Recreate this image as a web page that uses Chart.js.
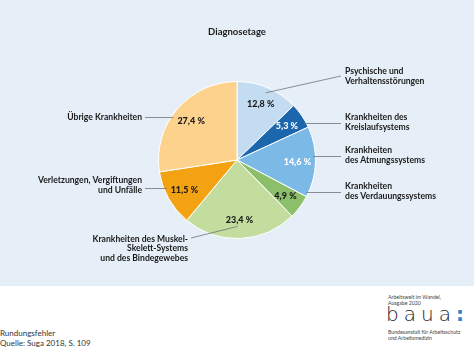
<!DOCTYPE html>
<html>
<head>
<meta charset="utf-8">
<script src="https://cdn.jsdelivr.net/npm/chart.js@4.4.1/dist/chart.umd.min.js"></script>
<style>
  html, body { margin: 0; padding: 0; background: #ffffff; }
  body { width: 474px; height: 351px; position: relative; overflow: hidden; font-family: Lato, "Open Sans", sans-serif; }
  #panel { position: absolute; left: 0; top: 0; width: 474px; height: 286px; background: #e6eff8; }
  #panel canvas { display: block; }
  .foot { position: absolute; color: #333; white-space: nowrap; }
  #f1 { left: 0; top: 328px; font-size: 8px; line-height: 10px; }
  .logo-small { font-size: 5.2px; line-height: 6.2px; color: #444; left: 388px; }
  #lg1 { top: 294px; }
  #lg2 { top: 329px; }
  #baua { left: 386px; top: 303px; font-family: "DejaVu Sans", sans-serif; font-weight: 300; font-size: 20px; line-height: 22px; letter-spacing: 5px; color: #222; }
  #baua span { color: #2f7fd6; font-weight: 700; }
</style>
</head>
<body>
<div id="panel"><canvas id="c" width="474" height="286"></canvas></div>
<div class="foot" id="f1">Rundungsfehler<br>Quelle: Suga 2018, S. 109</div>
<div class="foot logo-small" id="lg1">Arbeitswelt im Wandel,<br>Ausgabe 2020</div>
<div class="foot" id="baua">baua<span>:</span></div>
<div class="foot logo-small" id="lg2">Bundesanstalt für Arbeitsschutz<br>und Arbeitsmedizin</div>
<script>
// ---- data ----
const chartTitle = 'Diagnosetage';
const categories = [
  'Psychische und Verhaltensstörungen',
  'Krankheiten des Kreislaufsystems',
  'Krankheiten des Atmungssystems',
  'Krankheiten des Verdauungssystems',
  'Krankheiten des Muskel-Skelett-Systems und des Bindegewebes',
  'Verletzungen, Vergiftungen und Unfälle',
  'Übrige Krankheiten'
];
const categoryLines = [
  ['Psychische und', 'Verhaltensstörungen'],
  ['Krankheiten des', 'Kreislaufsystems'],
  ['Krankheiten', 'des Atmungssystems'],
  ['Krankheiten', 'des Verdauungssystems'],
  ['Krankheiten des Muskel-', 'Skelett-Systems', 'und des Bindegewebes'],
  ['Verletzungen, Vergiftungen', 'und Unfälle'],
  ['Übrige Krankheiten']
];
const values = [12.8, 5.3, 14.6, 4.9, 23.4, 11.5, 27.4];
const valueLabels = values.map(v => v.toLocaleString('de-DE', {minimumFractionDigits: 1}) + '\u202F%');

// ---- styles ----
const sliceColors = ['#c4dcf2', '#1c66ae', '#7bb9e7', '#8cbf69', '#c3dd9e', '#f3a312', '#fdd28d'];
const valueTextColors = ['#1a1a1a', '#ffffff', '#ffffff', '#1a1a1a', '#1a1a1a', '#1a1a1a', '#1a1a1a'];
// annotation layout: text anchor, line y positions and leader style
const annot = [
  {side: 'right', x: 345, ys: [71.5, 81.5], lineEnd: [341, 76], from: 'radial'},
  {side: 'right', x: 345, ys: [117.5, 127.5], lineY: 123.5, from: 'edge'},
  {side: 'right', x: 345, ys: [150.5, 160.5], lineY: 156.5, from: 'label'},
  {side: 'right', x: 345, ys: [186.5, 196.5], lineY: 192.5, from: 'edge'},
  {side: 'left', x: 188, ys: [239, 248.5, 258], lineEnd: [191, 238], from: 'below'},
  {side: 'left', x: 142, ys: [180.5, 190], lineY: 188.5, from: 'edge'},
  {side: 'left', x: 142, ys: [117.5], lineY: 117.5, from: 'label'}
];
const FONT = 'Lato, "Open Sans", sans-serif';

const annotPlugin = {
  id: 'annot',
  afterDatasetsDraw(chart) {
    const ctx = chart.ctx;
    const meta = chart.getDatasetMeta(0);
    const area = chart.chartArea;
    ctx.save();
    // title
    ctx.fillStyle = '#1a1a1a';
    ctx.font = '700 9.5px ' + FONT;
    ctx.textAlign = 'center';
    ctx.textBaseline = 'middle';
    ctx.fillText(chartTitle, (area.left + area.right) / 2, 32);

    meta.data.forEach((arc, i) => {
      const p = arc.getProps(['x', 'y', 'startAngle', 'endAngle', 'outerRadius'], true);
      const mid = (p.startAngle + p.endAngle) / 2;
      const rr = p.outerRadius * 0.77;
      const lx = p.x + Math.cos(mid) * rr;
      const ly = p.y + Math.sin(mid) * rr;
      // value label
      ctx.font = '900 9px ' + FONT;
      ctx.textAlign = 'center';
      ctx.textBaseline = 'middle';
      ctx.fillStyle = valueTextColors[i];
      ctx.fillText(valueLabels[i], lx, ly);
      const w = ctx.measureText(valueLabels[i]).width;

      // leader line
      const a = annot[i];
      let x1, y1, x2, y2;
      if (a.from === 'radial') {
        const r2 = p.outerRadius * 0.93;
        x1 = p.x + Math.cos(mid) * r2; y1 = p.y + Math.sin(mid) * r2;
        [x2, y2] = a.lineEnd;
      } else if (a.from === 'below') {
        x1 = lx - 2; y1 = ly + 6;
        [x2, y2] = a.lineEnd;
      } else {
        y1 = y2 = a.lineY;
        const dy = a.lineY - p.y;
        const edge = Math.sqrt(Math.max(p.outerRadius * p.outerRadius - dy * dy, 0));
        if (a.side === 'right') {
          x2 = a.x - 4;
          x1 = a.from === 'edge' ? p.x + edge - 2 : lx + w / 2 + 2;
        } else {
          x2 = a.x + 3;
          x1 = a.from === 'edge' ? p.x - edge + 3 : lx - w / 2 - 4;
        }
      }
      ctx.strokeStyle = '#6f7478';
      ctx.lineWidth = 0.8;
      ctx.beginPath();
      ctx.moveTo(x1, y1);
      ctx.lineTo(x2, y2);
      ctx.stroke();

      // category text
      ctx.fillStyle = '#1a1a1a';
      ctx.font = '700 8.6px ' + FONT;
      ctx.textAlign = a.side === 'right' ? 'left' : 'right';
      ctx.textBaseline = 'middle';
      categoryLines[i].forEach((t, k) => ctx.fillText(t, a.x, a.ys[k]));
    });
    ctx.restore();
  }
};

new Chart(document.getElementById('c'), {
  type: 'pie',
  data: {
    labels: categories,
    datasets: [{
      data: values,
      backgroundColor: sliceColors,
      borderColor: '#ffffff',
      borderWidth: 1
    }]
  },
  options: {
    responsive: false,
    animation: false,
    events: [],
    layout: { padding: { top: 81, bottom: 47, left: 0, right: 0 } },
    plugins: {
      legend: { display: false },
      tooltip: { enabled: false },
      title: { display: false }
    }
  },
  plugins: [annotPlugin]
});
</script>
</body>
</html>
